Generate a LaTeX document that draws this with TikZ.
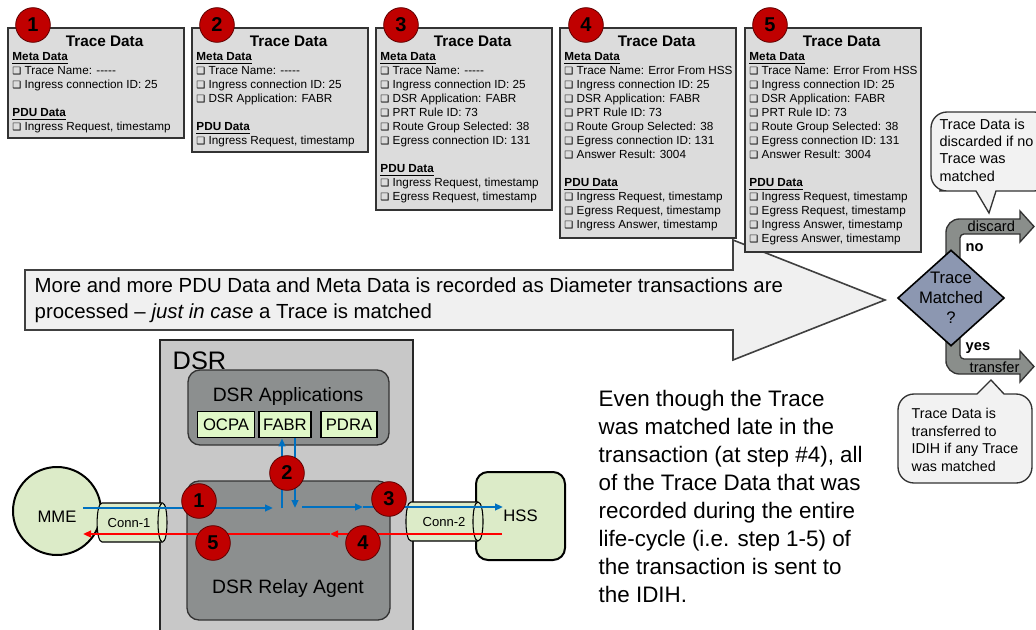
\documentclass[tikz,border=0pt]{standalone}
\usepackage{fontspec}
\setmainfont{Liberation Sans}
\newfontfamily\symfont{DejaVu Sans}
\usetikzlibrary{shapes.geometric,arrows.meta}

\definecolor{boxgray}{HTML}{DCDCDC}
\definecolor{arrowgray}{HTML}{F0F0F0}
\definecolor{dsrgray}{HTML}{C8C8C8}
\definecolor{modgray}{HTML}{8C8F8F}
\definecolor{appgreen}{HTML}{E0F8C8}
\definecolor{peergreen}{HTML}{DCEBC8}
\definecolor{badgered}{HTML}{C00000}
\definecolor{flowblue}{HTML}{0070C0}
\definecolor{flowred}{HTML}{FF0000}
\definecolor{decblue}{HTML}{8C97B1}
\definecolor{bandgray}{HTML}{8A8E8B}
\definecolor{calloutgray}{HTML}{F2F2F2}

\newcommand{\fsz}[2]{\fontsize{#1}{#2}\selectfont}
\newcommand{\chk}{{\symfont\fsz{7.5}{7.5}❑}\ }
\newcommand{\nodash}{-{}-{}-{}-{}-}
\newcommand{\tdtitle}{{\hspace*{40pt}\bfseries\fsz{11.5}{14}Trace Data\par}}
\newcommand{\tdsec}[1]{\textbf{\underline{#1}}\par}
\newcommand{\tditem}[1]{\mbox{\chk#1}\par}
\newcommand{\tdgap}{\mbox{}\par}
\newcommand{\tdbox}[2]{\parbox[t][#1][t]{125pt}{\fsz{8.8}{10.5}\vspace*{6.4pt}\tdtitle #2}}

\tikzset{
  tracebox/.style={draw=black!80, line width=1.2pt, fill=boxgray, anchor=north west, inner xsep=3.5pt, inner ysep=0pt},
  badge/.style={circle, fill=badgered, draw=badgered!50!black, line width=0.6pt, minimum size=26pt, inner sep=0pt, font=\bfseries\fsz{15}{15}},
  bigarrow/.style={fill=arrowgray, draw=black!75, line width=1.2pt},
  band/.style={fill=bandgray, draw=black!80, line width=1pt},
  decide/.style={diamond, draw=black, line width=1.2pt, fill=decblue, minimum width=80pt, minimum height=72pt, inner sep=0pt},
  callout/.style={fill=calloutgray, draw=black!80, line width=1pt},
  module/.style={fill=modgray, draw=black!80, line width=1pt, rounded corners=9pt},
  appbox/.style={draw=black, line width=0.9pt, fill=appgreen, minimum height=20pt, inner sep=0pt, font=\fsz{12.5}{12.5}},
  peer/.style={draw=black, line width=1.5pt, fill=peergreen, inner sep=0pt, font=\fsz{12.5}{12.5}},
  pipe/.style={draw=black, line width=0.8pt, fill=peergreen},
  flow/.style={line width=1.5pt, -{Triangle[length=6pt,width=5pt]}},
}

\begin{document}
\begin{tikzpicture}[x=0.75pt,y=-0.75pt]
\useasboundingbox (0,0) rectangle (1036,629);
\fill[white] (0,0) rectangle (1036,629);

% recording arrow
\draw[bigarrow] (25,270) -- (733,270) -- (733,240) -- (885,300) -- (733,360) -- (733,330) -- (25,330) -- cycle;
\node[anchor=west, align=left, font=\fsz{15.3}{19.5}] (moretxt) at (30,300)
  {More and more PDU Data and Meta Data is recorded as Diameter transactions are\\
   processed -- \textit{just in case} a Trace is matched};

% trace data boxes
\node[tracebox] (td1) at (7,27) {\tdbox{82.5pt}{%
  \tdsec{Meta Data}
  \tditem{Trace Name: \nodash}
  \tditem{Ingress connection ID: 25}
  \tdgap
  \tdsec{PDU Data}
  \tditem{Ingress Request, timestamp}}};
\node[tracebox] (td2) at (191,27) {\tdbox{93pt}{%
  \tdsec{Meta Data}
  \tditem{Trace Name: \nodash}
  \tditem{Ingress connection ID: 25}
  \tditem{DSR Application: FABR}
  \tdgap
  \tdsec{PDU Data}
  \tditem{Ingress Request, timestamp}}};
\node[tracebox] (td3) at (375,27) {\tdbox{136.5pt}{%
  \tdsec{Meta Data}
  \tditem{Trace Name: \nodash}
  \tditem{Ingress connection ID: 25}
  \tditem{DSR Application: FABR}
  \tditem{PRT Rule ID: 73}
  \tditem{Route Group Selected: 38}
  \tditem{Egress connection ID: 131}
  \tdgap
  \tdsec{PDU Data}
  \tditem{Ingress Request, timestamp}
  \tditem{Egress Request, timestamp}}};
\node[tracebox] (td4) at (559,27) {\tdbox{157.5pt}{%
  \tdsec{Meta Data}
  \tditem{Trace Name: Error From HSS}
  \tditem{Ingress connection ID: 25}
  \tditem{DSR Application: FABR}
  \tditem{PRT Rule ID: 73}
  \tditem{Route Group Selected: 38}
  \tditem{Egress connection ID: 131}
  \tditem{Answer Result: 3004}
  \tdgap
  \tdsec{PDU Data}
  \tditem{Ingress Request, timestamp}
  \tditem{Egress Request, timestamp}
  \tditem{Ingress Answer, timestamp}}};
\node[tracebox] (td5) at (744,27) {\tdbox{168pt}{%
  \tdsec{Meta Data}
  \tditem{Trace Name: Error From HSS}
  \tditem{Ingress connection ID: 25}
  \tditem{DSR Application: FABR}
  \tditem{PRT Rule ID: 73}
  \tditem{Route Group Selected: 38}
  \tditem{Egress connection ID: 131}
  \tditem{Answer Result: 3004}
  \tdgap
  \tdsec{PDU Data}
  \tditem{Ingress Request, timestamp}
  \tditem{Egress Request, timestamp}
  \tditem{Ingress Answer, timestamp}
  \tditem{Egress Answer, timestamp}}};

\node[badge] (tb1) at (33,25) {1};
\node[badge] (tb2) at (217,25) {2};
\node[badge] (tb3) at (401,25) {3};
\node[badge] (tb4) at (586,25) {4};
\node[badge] (tb5) at (770,25) {5};

% decision
\draw[band] (946,262) [rounded corners=10pt] -- (946,219) -- (990,219) [sharp corners] -- (1020,219)
  -- (1020,211) -- (1034,226.5) -- (1020,242) -- (1020,234) -- (990,234) [rounded corners=3pt]
  -- (960,234) -- (960,250) [sharp corners] -- (960,262) -- cycle;
\draw[band] (960,335) -- (960,345) [rounded corners=3pt] -- (960,359) -- (990,359) [sharp corners]
  -- (1020,359) -- (1020,351) -- (1034,366.5) -- (1020,382) -- (1020,374) -- (990,374) [rounded corners=10pt]
  -- (946,374) -- (946,350) [sharp corners] -- (946,335) -- cycle;
\node[anchor=west, font=\fsz{11}{11}] (discard) at (963,226) {discard};
\node[anchor=west, font=\fsz{11}{11}] (transfer) at (965,367) {transfer};
\node[decide] (match) at (951,298) {};
\node[align=center, font=\fsz{12.5}{15}] (matchtxt) at (match) {Trace\\Matched\\?};
\node[anchor=west, font=\bfseries\fsz{11}{11}] (nolbl) at (961,248) {no};
\node[anchor=west, font=\bfseries\fsz{11}{11}] (yeslbl) at (961,348) {yes};

% callouts
\draw[callout] (989,213) -- (996,191) -- (1020,191) [rounded corners=12pt] -- (1050,191) -- (1050,112)
  -- (931,112) -- (931,191) -- (955,191) [sharp corners] -- (976,191) -- cycle;
\node[anchor=west, align=left, font=\fsz{10.8}{13}] (discardnote) at (935,150)
  {Trace Data is\\discarded if no\\Trace was\\matched};
\draw[callout] (991,380) -- (1004,394) -- (1012,394) [rounded corners=12pt] -- (1032,394) -- (1032,483)
  -- (898,483) -- (898,394) -- (960,394) [sharp corners] -- (977,394) -- cycle;
\node[anchor=west, align=left, font=\fsz{10.7}{13.3}] (transfernote) at (907,440)
  {Trace Data is\\transferred to\\IDIH if any Trace\\was matched};

% DSR
\draw[fill=dsrgray, draw=black!85, line width=1.5pt] (160,340) rectangle (413,640);
\node[anchor=west, font=\fsz{19}{19}] (dsr) at (168,361) {DSR};
\draw[module] (188,370) rectangle (389,445);
\node[font=\fsz{14.5}{14.5}] (apptitle) at (288,396) {DSR Applications};
\node[appbox, minimum width=43pt] (ocpa) at (226,424.5) {OCPA};
\node[appbox, minimum width=39pt] (fabr) at (285,424.5) {FABR};
\node[appbox, minimum width=42pt] (pdra) at (349,424.5) {PDRA};
\draw[module] (187,481) rectangle (390,620);
\node[font=\fsz{14.5}{14.5}] (relaytitle) at (288,588) {DSR Relay Agent};

% peers and connections
\node[peer, circle, minimum size=66pt] (mme) at (57,511) {};
\node[font=\fsz{12.5}{12.5}] (mmetxt) at (57,517) {MME};
\node[peer, rounded corners=9pt, minimum width=66.75pt, minimum height=66pt] (hss) at (520.5,516) {HSS};
\draw[pipe] (102,503) -- (162.5,503) .. controls (168.5,503) and (168.5,542) .. (162.5,542)
  -- (102,542) .. controls (95.5,542) and (95.5,503) .. (102,503) -- cycle;
\draw[pipe] (162.5,503) .. controls (156.5,503) and (156.5,542) .. (162.5,542);
\node[font=\fsz{9.8}{9.8}] (conn1) at (129,523) {Conn-1};
\draw[pipe] (411,502) -- (478,502) .. controls (484.7,502) and (484.7,541) .. (478,541)
  -- (411,541) .. controls (404.3,541) and (404.3,502) .. (411,502) -- cycle;
\draw[pipe] (478,502) .. controls (471.3,502) and (471.3,541) .. (478,541);
\node[font=\fsz{9.8}{9.8}] (conn2) at (444,522) {Conn-2};

% message flow
\coordinate (mmeout) at (83,508);
\coordinate (relayin) at (273,508);
\coordinate (upfoot) at (282,508);
\coordinate (downfoot) at (295,508);
\coordinate (relayout) at (302,507);
\coordinate (midout) at (363,507);
\coordinate (hssin) at (503,507);
\coordinate (hssout) at (502,534);
\coordinate (midback) at (330,534);
\coordinate (mmein) at (83,534);
\draw[flow, flowblue] (mmeout) -- (relayin);
\draw[flow, flowblue] (upfoot) -- (upfoot |- fabr.south);
\draw[flow, flowblue] (downfoot |- fabr.south) -- (downfoot);
\draw[flow, flowblue] (relayout) -- (midout);
\draw[flow, flowblue] (midout) -- (hssin);
\draw[flow, flowred] (hssout) -- (midback);
\draw[flow, flowred] (midback) -- (mmein);

\node[badge] (fb1) at (199,501) {1};
\node[badge] (fb2) at (287,473) {2};
\node[badge] (fb3) at (389,499) {3};
\node[badge] (fb4) at (363,543) {4};
\node[badge] (fb5) at (213,543) {5};

% summary
\node[anchor=west, align=left, font=\fsz{16.8}{21}] (summary) at (594,496.5)
  {Even though the Trace\\was matched late in the\\transaction (at step \#4), all\\of the Trace Data that was\\recorded during the entire\\life-cycle (i.e. step 1-5) of\\the transaction is sent to\\the IDIH.};
\end{tikzpicture}
\end{document}
